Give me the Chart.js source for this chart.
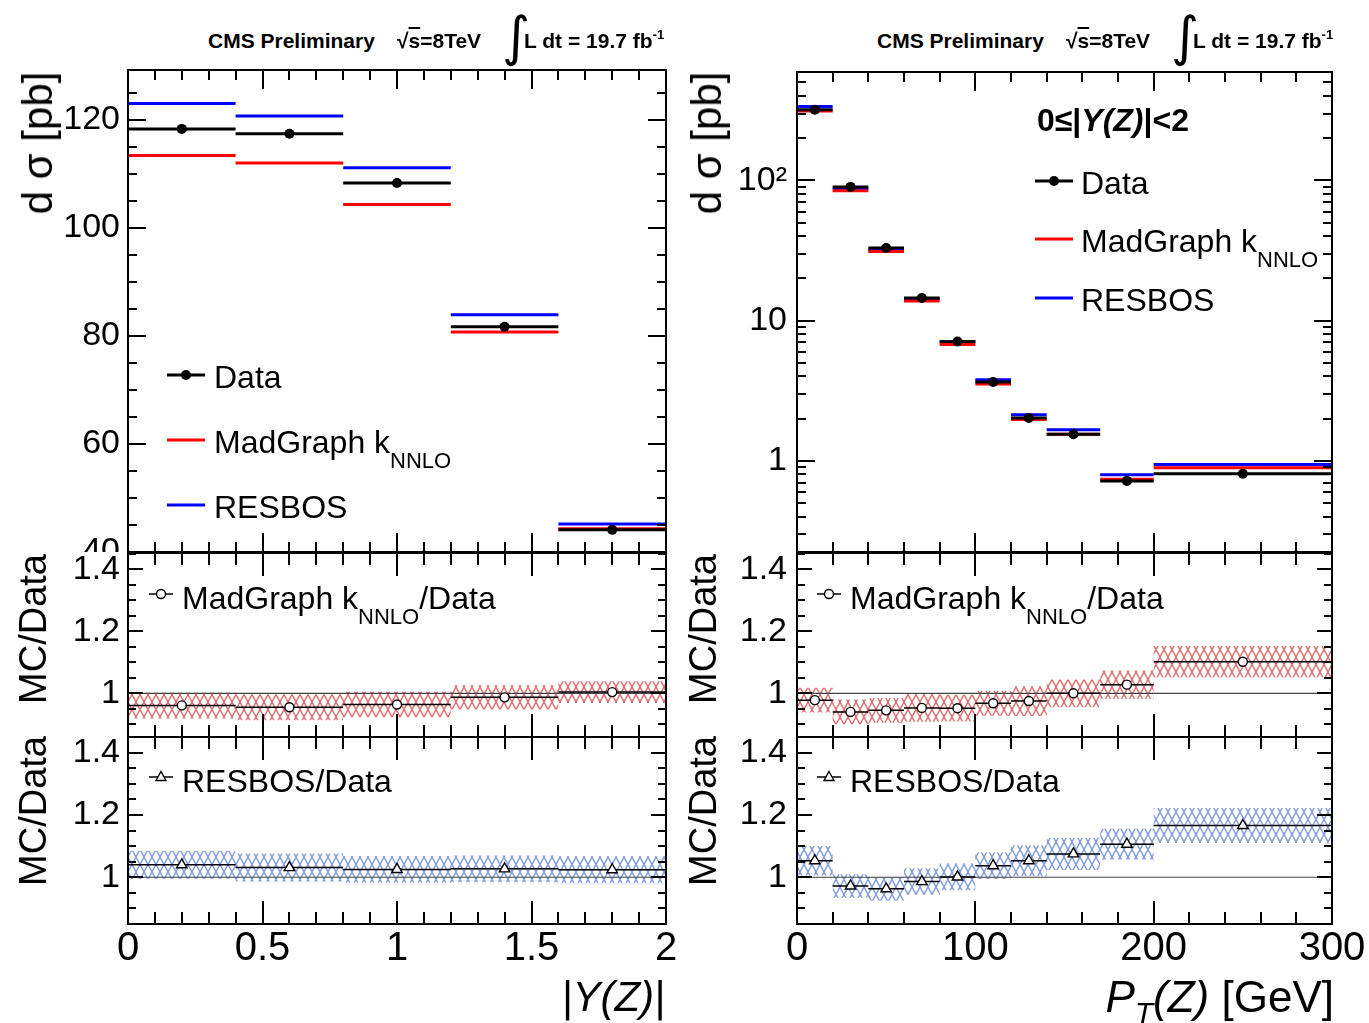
<!DOCTYPE html>
<html>
<head>
<meta charset="utf-8">
<script src="https://cdn.jsdelivr.net/npm/chart.js@4.4.1/dist/chart.umd.min.js"></script>
<style>
  body { margin: 0; background: #fff; }
  #wrap { position: relative; width: 1369px; height: 1023px; overflow: hidden; background: #fff;
          font-family: 'Liberation Sans', Arial, Helvetica, sans-serif; color: #000; }
  canvas { position: absolute; }
  .t { position: absolute; white-space: nowrap; line-height: 1; z-index: 5; }
  .rot { position: absolute; white-space: nowrap; line-height: 1; z-index: 5; transform: translate(-50%, -50%) rotate(-90deg); }
  .mk { position: absolute; z-index: 5; overflow: visible; }
</style>
</head>
<body>
<div id="wrap">
  <canvas id="cLT"></canvas>
  <canvas id="cLM"></canvas>
  <canvas id="cLB"></canvas>
  <canvas id="cRT"></canvas>
  <canvas id="cRM"></canvas>
  <canvas id="cRB"></canvas>
</div>
<script>
// ================= DATA =================
// |Y(Z)| distribution
const yBinEdges   = [0, 0.4, 0.8, 1.2, 1.6, 2.0];
const yData       = [118.3, 117.4, 108.3, 81.7, 44.1];
const yMadGraph   = [113.4, 112.0, 104.3, 80.7, 44.3];
const yResbos     = [123.0, 120.7, 111.1, 83.9, 45.2];
const yRatioMG    = [0.961, 0.955, 0.964, 0.987, 1.004];
const yRatioMGErr = [0.042, 0.042, 0.041, 0.039, 0.035];
const yRatioRB    = [1.040, 1.031, 1.025, 1.027, 1.024];
const yRatioRBErr = [0.045, 0.045, 0.043, 0.043, 0.043];

// P_T(Z) distribution
const ptBinEdges   = [0, 20, 40, 60, 80, 100, 120, 140, 170, 200, 300];
const ptData       = [320, 90, 33, 14.5, 7.1, 3.65, 2.02, 1.55, 0.72, 0.81];
const ptMadGraph   = [313, 84.6, 31.2, 13.8, 6.76, 3.53, 1.97, 1.55, 0.74, 0.893];
const ptResbos     = [337, 87.5, 31.8, 14.3, 7.11, 3.79, 2.13, 1.67, 0.796, 0.944];
const ptRatioMG    = [0.978, 0.940, 0.945, 0.953, 0.952, 0.968, 0.975, 1.000, 1.028, 1.102];
const ptRatioMGErr = [0.040, 0.040, 0.040, 0.045, 0.043, 0.040, 0.048, 0.045, 0.046, 0.051];
const ptRatioRB    = [1.053, 0.972, 0.963, 0.986, 1.001, 1.037, 1.053, 1.075, 1.106, 1.166];
const ptRatioRBErr = [0.047, 0.038, 0.038, 0.043, 0.043, 0.043, 0.050, 0.052, 0.050, 0.056];

// tick labels / axis ranges
const yXTicks        = [0, 0.5, 1, 1.5, 2];
const ptXTicks       = [0, 100, 200, 300];
const yTopTicks      = [40, 60, 80, 100, 120];
const ptTopTicks     = [1, 10, 100];
const ptTopLabels    = ['1', '10', '10\u00B2'];
const ratioTicks     = [1, 1.2, 1.4];
const yTopRange      = [40, 129.2];
const ptTopRange     = [0.224, 594];
const ratioRangeMid  = [0.859, 1.453];
const ratioRangeBot  = [0.85, 1.45];

// ================= HELPERS =================
const FONT = "'Liberation Sans', Arial, Helvetica, sans-serif";
function range(a, b, s) { const o = []; for (let v = a; v <= b + 1e-9; v += s) o.push(Math.round(v * 1e6) / 1e6); return o; }
function stepPts(edges, vals) {
  const p = [];
  vals.forEach((v, i) => { p.push({x: edges[i], y: v}, {x: edges[i + 1], y: v}, {x: edges[i + 1], y: null}); });
  return p;
}
function bandPts(edges, vals, errs, sign) {
  const p = [];
  vals.forEach((v, i) => { const y = v + sign * errs[i]; p.push({x: edges[i], y: y}, {x: edges[i + 1], y: y}); });
  return p;
}
function centerPts(edges, vals) { return vals.map((v, i) => ({x: (edges[i] + edges[i + 1]) / 2, y: v})); }
function hatch(color) {
  const c = document.createElement('canvas'); c.width = 8; c.height = 15;
  const g = c.getContext('2d'); g.strokeStyle = color; g.lineWidth = 1.3;
  g.beginPath(); g.moveTo(0, 0); g.lineTo(8, 15); g.moveTo(8, 0); g.lineTo(0, 15); g.stroke();
  return g.createPattern(c, 'repeat');
}
const redHatch = hatch('#dc6a6a');
const blueHatch = hatch('#7c9ad8');

const rootFrame = {
  id: 'rootFrame',
  afterDraw(chart, args, o) {
    if (!o || !o.on) return;
    const ctx = chart.ctx, a = chart.chartArea, xs = chart.scales.x, ys = chart.scales.y;
    ctx.save(); ctx.strokeStyle = '#000'; ctx.lineWidth = 2; ctx.lineCap = 'butt';
    ctx.beginPath();
    const seg = (x1, y1, x2, y2) => { ctx.moveTo(x1, y1); ctx.lineTo(x2, y2); };
    const inY = v => v >= ys.min - 1e-9 && v <= ys.max + 1e-9;
    const xt = (vals, len) => vals.forEach(v => { const p = Math.round(xs.getPixelForValue(v)); seg(p, a.bottom, p, a.bottom - len); seg(p, a.top, p, a.top + len); });
    const yt = (vals, len) => vals.filter(inY).forEach(v => { const p = Math.round(ys.getPixelForValue(v)); seg(a.left, p, a.left + len, p); seg(a.right, p, a.right - len, p); });
    xt(o.xMinor, o.xMinLen); xt(o.xMajor, o.xMajLen);
    yt(o.yMinor, o.yMinLen); yt(o.yMajor, o.yMajLen);
    ctx.stroke();
    ctx.strokeRect(a.left, a.top, a.right - a.left, a.bottom - a.top);
    ctx.restore();
  }
};

function fmt(v) { return String(Number(Number(v).toFixed(3))); }
function noPad(s) { s.paddingTop = 0; s.paddingBottom = 0; s.paddingLeft = 0; s.paddingRight = 0; }

function makeChart(id, box, frame, cfg) {
  const cv = document.getElementById(id);
  cv.width = box.w; cv.height = box.h;
  cv.style.left = box.x + 'px'; cv.style.top = box.y + 'px';
  const yW = frame.l - box.x, xH = box.y + box.h - frame.b;
  return new Chart(cv, {
    type: 'line',
    data: { datasets: cfg.datasets },
    options: {
      responsive: false, animation: false, devicePixelRatio: 1, events: [],
      layout: { autoPadding: false, padding: { top: frame.t - box.y, right: box.x + box.w - frame.r, left: 0, bottom: 0 } },
      plugins: { legend: { display: false }, tooltip: { enabled: false }, rootFrame: Object.assign({on: true}, cfg.frameTicks) },
      scales: {
        x: {
          type: 'linear', min: cfg.xRange[0], max: cfg.xRange[1],
          grid: { display: false, drawTicks: false }, border: { display: false },
          afterBuildTicks(s) { s.ticks = cfg.xLabels.map(v => ({ value: v })); },
          ticks: {
            display: !!cfg.showX, autoSkip: false, maxRotation: 0, minRotation: 0,
            font: { family: FONT, size: 40 }, color: '#000', padding: 1,
            callback: v => fmt(v)
          },
          afterFit(s) { s.height = xH; noPad(s); }
        },
        y: {
          type: cfg.log ? 'logarithmic' : 'linear', min: cfg.yRange[0], max: cfg.yRange[1],
          grid: { display: false, drawTicks: false }, border: { display: false },
          afterBuildTicks(s) { s.ticks = cfg.yLabels.map(v => ({ value: v })); },
          ticks: {
            autoSkip: false,
            font: { family: FONT, size: 34 }, color: '#000', padding: cfg.yPad,
            callback: cfg.yCallback || (v => fmt(v))
          },
          afterFit(s) { s.width = yW; noPad(s); }
        }
      }
    },
    plugins: [rootFrame]
  });
}

function topDatasets(edges, data, mg, rb) {
  return [
    { data: centerPts(edges, data), showLine: false, pointRadius: 5, pointBackgroundColor: '#000', pointBorderColor: '#000', pointBorderWidth: 0, order: 1 },
    { data: stepPts(edges, data), borderColor: '#000', borderWidth: 3, pointRadius: 0, spanGaps: false, fill: false, order: 2 },
    { data: stepPts(edges, mg), borderColor: '#ff0000', borderWidth: 3, pointRadius: 0, spanGaps: false, fill: false, order: 3 },
    { data: stepPts(edges, rb), borderColor: '#0000ff', borderWidth: 3, pointRadius: 0, spanGaps: false, fill: false, order: 4 }
  ];
}
function ratioDatasets(edges, vals, errs, pattern, style, xmax) {
  return [
    { data: bandPts(edges, vals, errs, +1), borderWidth: 0, pointRadius: 0, fill: false, order: 10 },
    { data: bandPts(edges, vals, errs, -1), borderWidth: 0, pointRadius: 0, fill: '-1', backgroundColor: pattern, order: 9 },
    { data: [{x: edges[0], y: 1}, {x: xmax, y: 1}], borderColor: '#444', borderWidth: 1.2, pointRadius: 0, fill: false, order: 5 },
    { data: stepPts(edges, vals), borderColor: '#000', borderWidth: 1.5, pointRadius: 0, spanGaps: false, fill: false, order: 2 },
    { data: centerPts(edges, vals), showLine: false, pointStyle: style, pointRadius: style === 'triangle' ? 6 : 4.5,
      pointBackgroundColor: '#fff', pointBorderColor: '#000', pointBorderWidth: 1.4, order: 1 }
  ];
}

// ---------- tick layouts ----------
const yXMinor = range(0, 2, 0.1), ptXMinor = range(0, 300, 20);
const ratioMinor = range(0.85, 1.45, 0.05);
const logMinor = [0.3,0.4,0.5,0.6,0.7,0.8,0.9,2,3,4,5,6,7,8,9,20,30,40,50,60,70,80,90,200,300,400,500];

// ---------- LEFT ----------
makeChart('cLT', {x: 0, y: 60, w: 680, h: 492}, {l: 128, t: 70, r: 666, b: 552}, {
  datasets: topDatasets(yBinEdges, yData, yMadGraph, yResbos),
  xRange: [0, 2], xLabels: yXTicks, showX: false,
  yRange: yTopRange, yLabels: yTopTicks, yPad: 8,
  frameTicks: { xMajor: yXTicks, xMinor: yXMinor, xMajLen: 19, xMinLen: 10, yMajor: yTopTicks, yMinor: range(40, 125, 5), yMajLen: 18, yMinLen: 9 }
});
makeChart('cLM', {x: 0, y: 552, w: 680, h: 185}, {l: 128, t: 553, r: 666, b: 737}, {
  datasets: ratioDatasets(yBinEdges, yRatioMG, yRatioMGErr, redHatch, 'circle', 2),
  xRange: [0, 2], xLabels: yXTicks, showX: false,
  yRange: ratioRangeMid, yLabels: ratioTicks, yPad: 8,
  frameTicks: { xMajor: yXTicks, xMinor: yXMinor, xMajLen: 23, xMinLen: 12, yMajor: ratioTicks, yMinor: ratioMinor, yMajLen: 15, yMinLen: 8 }
});
makeChart('cLB', {x: 0, y: 737, w: 680, h: 286}, {l: 128, t: 737, r: 666, b: 924}, {
  datasets: ratioDatasets(yBinEdges, yRatioRB, yRatioRBErr, blueHatch, 'triangle', 2),
  xRange: [0, 2], xLabels: yXTicks, showX: true,
  yRange: ratioRangeBot, yLabels: ratioTicks, yPad: 8,
  frameTicks: { xMajor: yXTicks, xMinor: yXMinor, xMajLen: 23, xMinLen: 12, yMajor: ratioTicks, yMinor: ratioMinor, yMajLen: 15, yMinLen: 8 }
});

// ---------- RIGHT ----------
makeChart('cRT', {x: 680, y: 60, w: 689, h: 492}, {l: 797, t: 72, r: 1332, b: 552}, {
  datasets: topDatasets(ptBinEdges, ptData, ptMadGraph, ptResbos),
  xRange: [0, 300], xLabels: ptXTicks, showX: false, log: true,
  yRange: ptTopRange, yLabels: ptTopTicks, yPad: 10,
  yCallback: (v, i) => ptTopLabels[i],
  frameTicks: { xMajor: ptXTicks, xMinor: ptXMinor, xMajLen: 19, xMinLen: 10, yMajor: ptTopTicks, yMinor: logMinor, yMajLen: 18, yMinLen: 9 }
});
makeChart('cRM', {x: 680, y: 552, w: 689, h: 185}, {l: 797, t: 553, r: 1332, b: 737}, {
  datasets: ratioDatasets(ptBinEdges, ptRatioMG, ptRatioMGErr, redHatch, 'circle', 300),
  xRange: [0, 300], xLabels: ptXTicks, showX: false,
  yRange: ratioRangeMid, yLabels: ratioTicks, yPad: 10,
  frameTicks: { xMajor: ptXTicks, xMinor: ptXMinor, xMajLen: 23, xMinLen: 12, yMajor: ratioTicks, yMinor: ratioMinor, yMajLen: 15, yMinLen: 8 }
});
makeChart('cRB', {x: 680, y: 737, w: 689, h: 286}, {l: 797, t: 737, r: 1332, b: 924}, {
  datasets: ratioDatasets(ptBinEdges, ptRatioRB, ptRatioRBErr, blueHatch, 'triangle', 300),
  xRange: [0, 300], xLabels: ptXTicks, showX: true,
  yRange: ratioRangeBot, yLabels: ratioTicks, yPad: 10,
  frameTicks: { xMajor: ptXTicks, xMinor: ptXMinor, xMajLen: 23, xMinLen: 12, yMajor: ratioTicks, yMinor: ratioMinor, yMajLen: 15, yMinLen: 8 }
});

// ================= TEXT OVERLAYS =================
const wrap = document.getElementById('wrap');
function txt(html, x, yc, size, extra, alignRight) {
  const d = document.createElement('div'); d.className = 't';
  d.style.fontSize = size + 'px';
  d.style.top = (yc - 0.49 * size) + 'px';
  if (alignRight) d.style.right = (1369 - x) + 'px'; else d.style.left = x + 'px';
  if (extra) d.style.cssText += extra;
  d.innerHTML = html; wrap.appendChild(d); return d;
}
function rot(html, x, yc, size) {
  const d = document.createElement('div'); d.className = 'rot';
  d.style.fontSize = size + 'px'; d.style.left = x + 'px'; d.style.top = yc + 'px';
  d.innerHTML = html; wrap.appendChild(d);
}
function svg(x, y, w, h, inner) {
  const d = document.createElement('div'); d.className = 'mk';
  d.style.left = x + 'px'; d.style.top = y + 'px'; d.style.width = w + 'px'; d.style.height = h + 'px';
  d.innerHTML = '<svg width="' + w + '" height="' + h + '" xmlns="http://www.w3.org/2000/svg">' + inner + '</svg>';
  wrap.appendChild(d);
}
const SUB = '<span style="font-size:22px;position:relative;top:15px">NNLO</span>';

// header
function header(x0) {
  txt('CMS Preliminary', x0, 40, 21, 'font-weight:bold;');
  txt('\u221A<span style="text-decoration:overline">s</span>=8TeV', x0 + 189, 40, 21, 'font-weight:bold;');
  txt('\u222B', x0 + 294, 36, 54, "font-family:'DejaVu Sans';font-weight:normal;");
  txt('L dt = 19.7 fb<span style="font-size:13px;position:relative;top:-9px">-1</span>', x0 + 316, 40, 21, 'font-weight:bold;');
}
header(208); header(877);

// y titles
rot('d \u03C3 [pb]', 38, 143, 42);
rot('d \u03C3 [pb]', 707, 143, 42);
rot('MC/Data', 33, 629, 38);
rot('MC/Data', 33, 811, 38);
rot('MC/Data', 703, 629, 38);
rot('MC/Data', 703, 811, 38);

// x titles
txt('<i>|Y(Z)|</i>', 665, 997, 42, '', true);
txt('<i>P</i><span style="font-size:30px;position:relative;top:11px"><i>T</i></span><i>(Z)</i> [GeV]', 1334, 997, 44, '', true);

// top legends
function topLegend(lx, tx, yD, yM, yR) {
  svg(lx, yD - 6, 38, 12, '<line x1="0" y1="6" x2="38" y2="6" stroke="#000" stroke-width="3"/><circle cx="19" cy="6" r="5" fill="#000"/>');
  svg(lx, yM - 6, 38, 12, '<line x1="0" y1="6" x2="38" y2="6" stroke="#ff0000" stroke-width="3"/>');
  svg(lx, yR - 6, 38, 12, '<line x1="0" y1="6" x2="38" y2="6" stroke="#0000ff" stroke-width="3"/>');
  txt('Data', tx, yD + 4, 32);
  txt('MadGraph k' + SUB, tx, yM + 4, 32);
  txt('RESBOS', tx, yR + 4, 32);
}
topLegend(167, 214, 373, 438, 503);
topLegend(1035, 1081, 179, 237, 296);
txt('0\u2264|<i>Y(Z)</i>|&lt;2', 1037, 120, 32, 'font-weight:bold;');

// ratio legends
function ratioLegend(lx, tx) {
  svg(lx, 586, 24, 16, '<line x1="0" y1="8" x2="24" y2="8" stroke="#000" stroke-width="1.5"/><circle cx="12" cy="8" r="4.5" fill="#fff" stroke="#000" stroke-width="1.4"/>');
  txt('MadGraph k' + SUB + '/Data', tx, 598, 32);
  svg(lx, 769, 24, 16, '<line x1="0" y1="8" x2="24" y2="8" stroke="#000" stroke-width="1.5"/><polygon points="12,2.5 17,11.5 7,11.5" fill="#fff" stroke="#000" stroke-width="1.4"/>');
  txt('RESBOS/Data', tx, 781, 32);
}
ratioLegend(149, 182);
ratioLegend(817, 850);
</script>
</body>
</html>
